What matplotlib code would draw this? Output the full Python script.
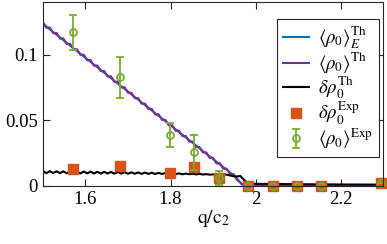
import matplotlib
matplotlib.use("Agg")
import matplotlib.pyplot as plt
import numpy as np
from matplotlib.ticker import FuncFormatter

plt.rcParams["font.family"] = ["Liberation Serif", "DejaVu Serif"]
plt.rcParams["mathtext.fontset"] = "stix"

q_th = np.linspace(1.5, 1.972, 60)
rho_th = [0.1251, 0.1208, 0.1210, 0.1167, 0.1168, 0.1125, 0.1127, 0.1084, 0.1085, 0.1043,
          0.1044, 0.1001, 0.1002, 0.0960, 0.0961, 0.0918, 0.0920, 0.0877, 0.0878, 0.0835,
          0.0837, 0.0794, 0.0795, 0.0752, 0.0754, 0.0711, 0.0712, 0.0670, 0.0671, 0.0628,
          0.0629, 0.0587, 0.0588, 0.0545, 0.0547, 0.0504, 0.0505, 0.0462, 0.0464, 0.0421,
          0.0422, 0.0380, 0.0381, 0.0338, 0.0339, 0.0297, 0.0298, 0.0255, 0.0256, 0.0214,
          0.0215, 0.0172, 0.0174, 0.0131, 0.0132, 0.0089, 0.0091, 0.0048, 0.0025, 0.0000]
drho_th = [0.0114, 0.0097, 0.0113, 0.0098, 0.0112, 0.0097, 0.0112, 0.0096, 0.0111, 0.0097,
           0.0110, 0.0095, 0.0110, 0.0096, 0.0109, 0.0095, 0.0108, 0.0094, 0.0108, 0.0095,
           0.0107, 0.0094, 0.0106, 0.0094, 0.0105, 0.0093, 0.0104, 0.0093, 0.0103, 0.0092,
           0.0102, 0.0092, 0.0101, 0.0091, 0.0100, 0.0091, 0.0099, 0.0090, 0.0098, 0.0090,
           0.0096, 0.0089, 0.0094, 0.0089, 0.0093, 0.0088, 0.0092, 0.0087, 0.0090, 0.0086,
           0.0088, 0.0087, 0.0089, 0.0090, 0.0086, 0.0080, 0.0074, 0.0072, 0.0076, 0.0050]
q_tail = [1.98, 1.99, 2.0, 2.1, 2.2, 2.3]
rho_tail = [0.0, 0.0, 0.0, 0.0, 0.0, 0.0]
drho_tail = [0.0025, 0.0018, 0.0016, 0.0013, 0.0011, 0.0010]

q_E = [1.5, 1.6, 1.7, 1.8, 1.9, 1.95, 1.972, 2.3]
rho_E = [0.1238, 0.0978, 0.0720, 0.0463, 0.0205, 0.0078, 0.0, 0.0]

# experiment
q_exp = [1.570, 1.682, 1.798, 1.856, 1.913, 1.982, 2.041, 2.098, 2.154, 2.294]
drho_exp = [0.0127, 0.0155, 0.0097, 0.0148, 0.0060, 0.0, 0.0, 0.0, 0.0, 0.002]
rho_exp = [0.1173, 0.0830, 0.0389, 0.0257, 0.0059, 0.0, 0.0, 0.0, 0.0, 0.002]
rho_err = [0.0134, 0.0157, 0.0093, 0.0134, 0.0053, 0.0, 0.0, 0.0, 0.0, 0.0]

fig = plt.figure(figsize=(3.87, 2.44), dpi=100)
ax = fig.add_axes([0.111, 0.238, 0.879, 0.754])

q_full = list(q_th) + q_tail
ax.plot(q_E, rho_E, color="#0072BD", lw=1.5,
        label=r"$\langle\rho_0\rangle^{\mathrm{Th}}_{E}$")
ax.plot(q_full, rho_th + rho_tail, color="#7E2F8E", lw=1.5,
        label=r"$\langle\rho_0\rangle^{\mathrm{Th}}$")
ax.plot(q_full, drho_th + drho_tail, color="black", lw=1.5,
        label=r"$\delta\rho_0^{\mathrm{Th}}$")
ax.plot(q_exp, drho_exp, "s", color="#D95319", ms=7.5, ls="none", clip_on=False,
        label=r"$\delta\rho_0^{\mathrm{Exp}}$")
ax.errorbar(q_exp, rho_exp, yerr=rho_err, fmt="o", mfc="none", mec="#77AC30",
            ecolor="#77AC30", ms=5, mew=1.3, elinewidth=1.3, capsize=3,
            capthick=1.3, clip_on=False, label=r"$\langle\rho_0\rangle^{\mathrm{Exp}}$")

ax.set_xlim(1.5, 2.3)
ax.set_ylim(0, 0.1405)
ax.set_xticks([1.6, 1.8, 2.0, 2.2])
ax.set_yticks([0, 0.05, 0.1])
fmt = FuncFormatter(lambda v, p: f"{v:g}")
ax.xaxis.set_major_formatter(fmt)
ax.yaxis.set_major_formatter(fmt)
ax.tick_params(direction="in", top=True, right=True, length=5, width=0.8,
               labelsize=13.5, colors="#262626", labelcolor="black")
for s in ax.spines.values():
    s.set_color("#262626")
    s.set_linewidth(0.8)
ax.set_xlabel(r"$\mathrm{q/c_2}$", fontsize=14, labelpad=0)

leg = ax.legend(loc="upper right", bbox_to_anchor=(0.988, 0.908), fontsize=13.5,
                fancybox=False, framealpha=1, edgecolor="#262626",
                handlelength=1.4, handletextpad=0.5, labelspacing=-0.04,
                borderpad=0.3, borderaxespad=0)
leg.get_frame().set_linewidth(0.8)

fig.savefig("out.png", dpi=100)
